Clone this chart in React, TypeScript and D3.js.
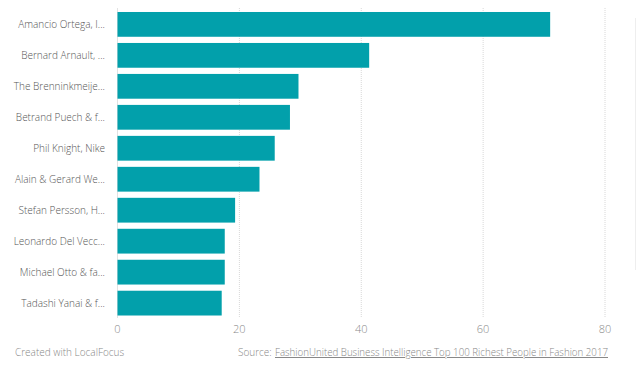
import React from "react";
import * as d3 from "d3";

const names = [
  "Amancio Ortega, I...",
  "Bernard Arnault, ...",
  "The Brenninkmeije...",
  "Betrand Puech & f...",
  "Phil Knight, Nike",
  "Alain & Gerard We...",
  "Stefan Persson, H...",
  "Leonardo Del Vecc...",
  "Michael Otto & fa...",
  "Tadashi Yanai & f...",
];
const values = [71.0, 41.3, 29.7, 28.3, 25.8, 23.3, 19.3, 17.6, 17.6, 17.1];
const ticks = [0, 20, 40, 60, 80];

const W = 640;
const H = 376;

export default function App() {
  const x = d3.scaleLinear().domain([0, 80]).range([117.5, 605]);
  const y = d3
    .scaleBand<string>()
    .domain(names)
    .range([5.8, 321.7])
    .paddingInner(0.2)
    .paddingOuter(0.2);
  const font = "'Open Sans', 'Noto Sans', sans-serif";
  return (
    <svg
      width={W}
      height={H}
      style={{ position: "absolute", left: 0, top: 0, background: "#fff" }}
      fontFamily={font}
      fontWeight={300}
    >
      {ticks.map((t) => (
        <g key={t}>
          {t > 0 && (
            <line
              x1={x(t)}
              x2={x(t)}
              y1={8}
              y2={318}
              stroke="#d8d8d8"
              strokeWidth={1}
              strokeDasharray="1,1"
            />
          )}
          <text
            x={x(t)}
            y={333}
            textAnchor="middle"
            fontSize={11}
            fill="#8a8a8a"
          >
            {t}
          </text>
        </g>
      ))}
      <line x1={x(0)} x2={x(0)} y1={8} y2={318} stroke="#e2e2e2" strokeWidth={1} />
      {names.map((n, i) => (
        <g key={n}>
          <rect
            x={x(0)}
            y={y(n)}
            width={x(values[i]) - x(0)}
            height={y.bandwidth()}
            fill="#02a0ab"
          />
          <text
            x={105}
            y={(y(n) as number) + y.bandwidth() / 2}
            dy="0.35em"
            textAnchor="end"
            fontSize={10}
            fill="#555"
          >
            {n}
          </text>
        </g>
      ))}
      <line x1={635.5} x2={635.5} y1={18} y2={270} stroke="#eeeeee" strokeWidth={1} />
      <text x={15} y={356} fontSize={10} fill="#888">
        Created with LocalFocus
      </text>
      <text x={238} y={356} fontSize={10} fill="#888">
        Source:
      </text>
      <text
        x={275}
        y={356}
        fontSize={10}
        fill="#888"
        textDecoration="underline"
        textLength={333}
        lengthAdjust="spacingAndGlyphs"
      >
        FashionUnited Business Intelligence Top 100 Richest People in Fashion 2017
      </text>
    </svg>
  );
}
